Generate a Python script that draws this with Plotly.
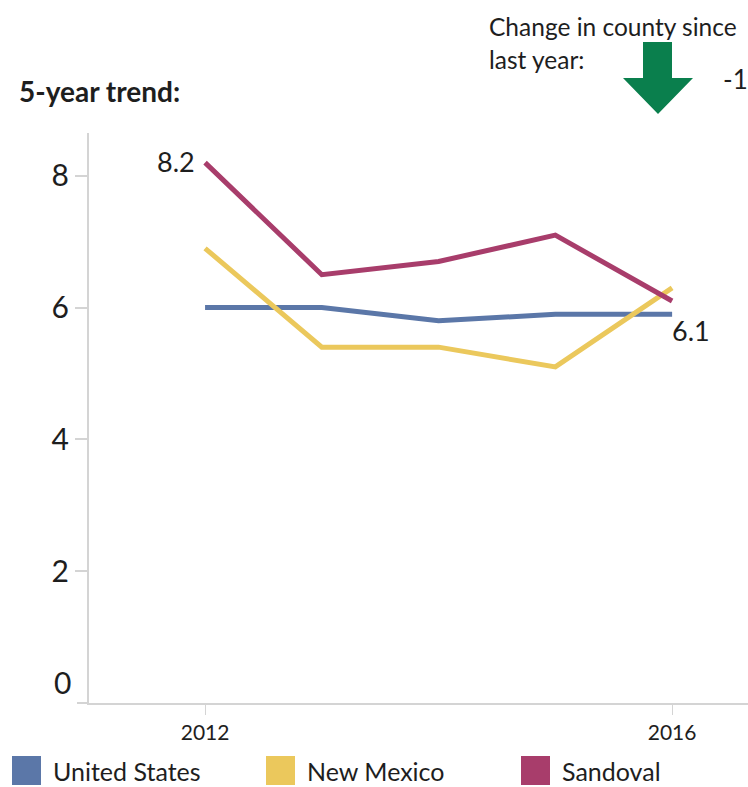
import plotly.graph_objects as go

years = [2012, 2013, 2014, 2015, 2016]
series_names = ["United States", "New Mexico", "Sandoval"]
united_states = [6.0, 6.0, 5.8, 5.9, 5.9]
new_mexico = [6.9, 5.4, 5.4, 5.1, 6.3]
sandoval = [8.2, 6.5, 6.7, 7.1, 6.1]
colors = ["#5b77a8", "#ebc85c", "#a83d6b"]
y_ticks = [2, 4, 6, 8]
x_ticks = [2012, 2016]
change_value = "-1"

FONT = "Lato"
W, H = 748, 787
L, R, T, B = 89, 0, 133, 84
TXT = "#1e1e1e"


def px(xp):
    return (xp - L) / (W - L - R)


def py(yp):
    return (H - B - yp) / (H - T - B)


fig = go.Figure()
for name, vals, col in zip(series_names, [united_states, new_mexico, sandoval], colors):
    fig.add_trace(go.Scatter(x=years, y=vals, mode="lines", name=name,
                             line=dict(color=col, width=5), showlegend=False,
                             hoverinfo="x+y+name"))

# end labels for Sandoval
fig.add_annotation(x=years[0], y=sandoval[0], text=f"{sandoval[0]:.1f}", showarrow=False,
                   xanchor="right", yanchor="middle", xshift=-8, yshift=1,
                   font=dict(family=FONT, size=27, color=TXT))
fig.add_annotation(x=years[-1], y=sandoval[-1], text=f"{sandoval[-1]:.1f}", showarrow=False,
                   xanchor="left", yanchor="middle", xshift=-2, yshift=-29,
                   font=dict(family=FONT, size=27, color=TXT))

# zero label (shifted up as in reference)
fig.add_annotation(x=0, xref="paper", y=0, yref="y", text="0", showarrow=False,
                   xanchor="right", yanchor="middle", xshift=-16, yshift=21,
                   font=dict(family=FONT, size=30, color=TXT))

# extension of x-axis line to the left of y axis
fig.add_shape(type="line", xref="paper", yref="paper",
              x0=px(77), x1=0, y0=0, y1=0,
              line=dict(color="#d4d4d4", width=2))

# titles
fig.add_annotation(x=px(17), xref="paper", y=py(91), yref="paper", text="<b>5-year trend:</b>",
                   showarrow=False, xanchor="left", yanchor="middle",
                   font=dict(family=FONT, size=28, color=TXT))
fig.add_annotation(x=px(487), xref="paper", y=py(26), yref="paper", text="Change in county since",
                   showarrow=False, xanchor="left", yanchor="middle",
                   font=dict(family=FONT, size=24.5, color=TXT))
fig.add_annotation(x=px(487), xref="paper", y=py(59), yref="paper", text="last year:",
                   showarrow=False, xanchor="left", yanchor="middle",
                   font=dict(family=FONT, size=24.5, color=TXT))
fig.add_annotation(x=px(721), xref="paper", y=py(79), yref="paper", text=change_value,
                   showarrow=False, xanchor="left", yanchor="middle",
                   font=dict(family=FONT, size=26, color=TXT))

# green arrow
arrow_pts = [(643, 42), (672, 42), (672, 78), (693, 78), (658, 114), (623, 78), (643, 78)]
path = "M " + " L ".join(f"{px(a):.5f},{py(b):.5f}" for a, b in arrow_pts) + " Z"
fig.add_shape(type="path", xref="paper", yref="paper", path=path,
              fillcolor="#0a7f4d", line=dict(width=0))

# legend
leg_x = [12, 266, 521]
for name, col, lx in zip(series_names, colors, leg_x):
    fig.add_shape(type="rect", xref="paper", yref="paper",
                  x0=px(lx), x1=px(lx + 29), y0=py(785), y1=py(756),
                  fillcolor=col, line=dict(width=0))
    fig.add_annotation(x=px(lx + 39), xref="paper", y=py(771), yref="paper", text=name,
                       showarrow=False, xanchor="left", yanchor="middle",
                       font=dict(family=FONT, size=25, color=TXT))

fig.update_layout(
    width=W, height=H,
    margin=dict(l=L, r=R, t=T, b=B),
    paper_bgcolor="white", plot_bgcolor="white",
    showlegend=False,
    xaxis=dict(range=[2011.006, 2016.65], tickvals=x_ticks, ticktext=[str(v) for v in x_ticks],
               showgrid=False, zeroline=False, showline=True, linecolor="#d4d4d4", linewidth=2,
               ticks="outside", ticklen=10, tickcolor="#d4d4d4", tickwidth=1,
               tickfont=dict(family=FONT, size=21, color=TXT)),
    yaxis=dict(range=[0, 8.65], tickvals=y_ticks, showgrid=False, zeroline=False,
               showline=True, linecolor="#d4d4d4", linewidth=2,
               ticks="outside", ticklen=12, tickcolor="#d4d4d4", tickwidth=2,
               tickfont=dict(family=FONT, size=30, color=TXT)),
)

fig.write_html("out.html", config={"displayModeBar": False},
               post_script="document.body.style.margin='0';document.body.style.overflow='hidden';")
